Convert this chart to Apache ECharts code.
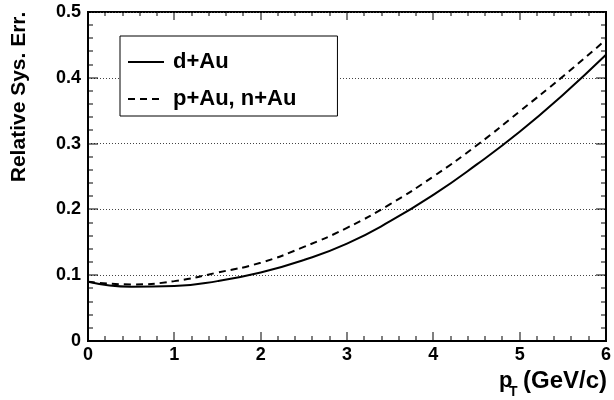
<!DOCTYPE html>
<html><head><meta charset="utf-8">
<script src="https://cdn.jsdelivr.net/npm/echarts@6/dist/echarts.min.js"></script>
<style>html,body{margin:0;padding:0;background:#fff}#c{width:614px;height:400px;background:#fff}</style>
</head><body><div id="c"></div>
<script>
// ---- data ----
const ptValues = [0, 0.5, 1, 1.5, 2, 2.5, 3, 3.5, 4, 4.5, 5, 5.5, 6];
const dAuErr  = [0.090, 0.0825, 0.0835, 0.091, 0.104, 0.123, 0.148, 0.182, 0.222, 0.268, 0.318, 0.374, 0.435];
const pnAuErr = [0.090, 0.086, 0.091, 0.104, 0.119, 0.143, 0.172, 0.208, 0.250, 0.297, 0.349, 0.402, 0.458];
const seriesNames = ['d+Au', 'p+Au, n+Au'];
const xTickLabels = [0, 1, 2, 3, 4, 5, 6];
const yTickLabels = [0, 0.1, 0.2, 0.3, 0.4, 0.5];
const xMinorPerMajor = 5, yMinorPerMajor = 5;
const yTitle = 'Relative Sys. Err.';
const xTitleMain = 'p', xTitleSub = 'T', xTitleUnit = '(GeV/c)';

const FONT = '"Liberation Sans", Arial, Helvetica, sans-serif';
const BLACK = '#000';
const xMin = xTickLabels[0], xMax = xTickLabels[xTickLabels.length - 1], xStep = xTickLabels[1] - xTickLabels[0];
const yMin = yTickLabels[0], yMax = yTickLabels[yTickLabels.length - 1], yStep = +(yTickLabels[1] - yTickLabels[0]).toFixed(6);

function pairs(xs, ys) { return xs.map((x, i) => [x, ys[i]]); }

const chart = echarts.init(document.getElementById('c'), null, { renderer: 'canvas' });
chart.setOption({
  animation: false,
  grid: { left: 88, right: 6, top: 12, bottom: 59, show: true, borderColor: BLACK, borderWidth: 2, backgroundColor: 'transparent' },
  xAxis: { type: 'value', min: xMin, max: xMax, interval: xStep,
    axisLine: { show: true, lineStyle: { color: BLACK, width: 2 } },
    axisTick: { show: false },
    axisLabel: { fontSize: 18, fontWeight: 'bold', color: BLACK, fontFamily: FONT, margin: 5 },
    splitLine: { show: false } },
  yAxis: { type: 'value', min: yMin, max: yMax, interval: yStep,
    axisLine: { show: true, lineStyle: { color: BLACK, width: 2 } },
    axisTick: { show: false },
    axisLabel: { fontSize: 18, fontWeight: 'bold', color: BLACK, fontFamily: FONT, margin: 7 },
    splitLine: { show: true, lineStyle: { color: '#444', width: 1, type: [1, 2] } } },
  legend: {
    left: 120, top: 36, orient: 'vertical',
    itemWidth: 36, itemHeight: 14, itemGap: 13,
    padding: [14, 41, 5, 7],
    borderColor: BLACK, borderWidth: 1, borderRadius: 0,
    backgroundColor: '#fff',
    selectedMode: false,
    itemStyle: { opacity: 0 },
    textStyle: { fontSize: 22, fontWeight: 'bold', color: BLACK, fontFamily: FONT, lineHeight: 24, padding: [0, 0, 0, 4] },
    data: seriesNames
  },
  series: [
    { name: seriesNames[0], type: 'line',
      data: pairs(ptValues, dAuErr), symbol: 'none', showSymbol: false,
      smooth: 0.5, lineStyle: { color: BLACK, width: 2, type: 'solid' }, itemStyle: { color: BLACK } },
    { name: seriesNames[1], type: 'line',
      data: pairs(ptValues, pnAuErr), symbol: 'none', showSymbol: false,
      smooth: 0.5, lineStyle: { color: BLACK, width: 2, type: [7, 5] }, itemStyle: { color: BLACK } }
  ]
});

// ---- ROOT-style ticks (inside, mirrored on four sides), positioned through the axes' scales ----
const elements = [];
const toPx = (x, y) => chart.convertToPixel({ gridIndex: 0 }, [x, y]);
const c0 = toPx(xMin, yMin), c1 = toPx(xMax, yMax);
const gl = c0[0], gr = c1[0], gb = c0[1], gt = c1[1];
function vtick(px, yEdge, len) {   // len > 0 goes up, < 0 goes down
  const x = Math.round(px) - 0.5;
  const y = len > 0 ? yEdge - len : yEdge;
  elements.push({ type: 'rect', z: 50, silent: true, shape: { x: x, y: y, width: 1, height: Math.abs(len) }, style: { fill: BLACK } });
}
function htick(py, xEdge, len) {   // len > 0 goes right, < 0 goes left
  const y = Math.round(py) - 0.5;
  const x = len > 0 ? xEdge : xEdge + len;
  elements.push({ type: 'rect', z: 50, silent: true, shape: { x: x, y: y, width: Math.abs(len), height: 1 }, style: { fill: BLACK } });
}
if (isFinite(gl) && isFinite(gr) && isFinite(gb) && isFinite(gt)) {
  for (let i = 0; i < xTickLabels.length; i++) {
    const px = toPx(xTickLabels[i], yMin)[0];
    vtick(px, gb, 9); vtick(px, gt, -8);
    if (i < xTickLabels.length - 1) for (let k = 1; k < xMinorPerMajor; k++) {
      const q = toPx(xTickLabels[i] + k * xStep / xMinorPerMajor, yMin)[0];
      vtick(q, gb, 5); vtick(q, gt, -4);
    }
  }
  for (let i = 0; i < yTickLabels.length; i++) {
    const py = toPx(xMin, yTickLabels[i])[1];
    htick(py, gl, 10); htick(py, gr, -10);
    if (i < yTickLabels.length - 1) for (let k = 1; k < yMinorPerMajor; k++) {
      const q = toPx(xMin, yTickLabels[i] + k * yStep / yMinorPerMajor)[1];
      htick(q, gl, 5); htick(q, gr, -5);
    }
  }
}
// axis titles
elements.push(
  { type: 'text', x: 19, y: 97, rotation: Math.PI / 2,
    style: { text: yTitle, fontSize: 21, fontWeight: 'bold', fontFamily: FONT, fill: BLACK, align: 'center', verticalAlign: 'middle' } },
  { type: 'text', x: 499, y: 381,
    style: { text: xTitleMain, fontSize: 22, fontWeight: 'bold', fontFamily: FONT, fill: BLACK, align: 'left', verticalAlign: 'middle' } },
  { type: 'text', x: 509, y: 392,
    style: { text: xTitleSub, fontSize: 14, fontWeight: 'bold', fontFamily: FONT, fill: BLACK, align: 'left', verticalAlign: 'middle' } },
  { type: 'text', x: 523, y: 381,
    style: { text: xTitleUnit, fontSize: 24, fontWeight: 'bold', fontFamily: FONT, fill: BLACK, align: 'left', verticalAlign: 'middle' } }
);
chart.setOption({ graphic: { elements: elements } });
</script></body></html>
